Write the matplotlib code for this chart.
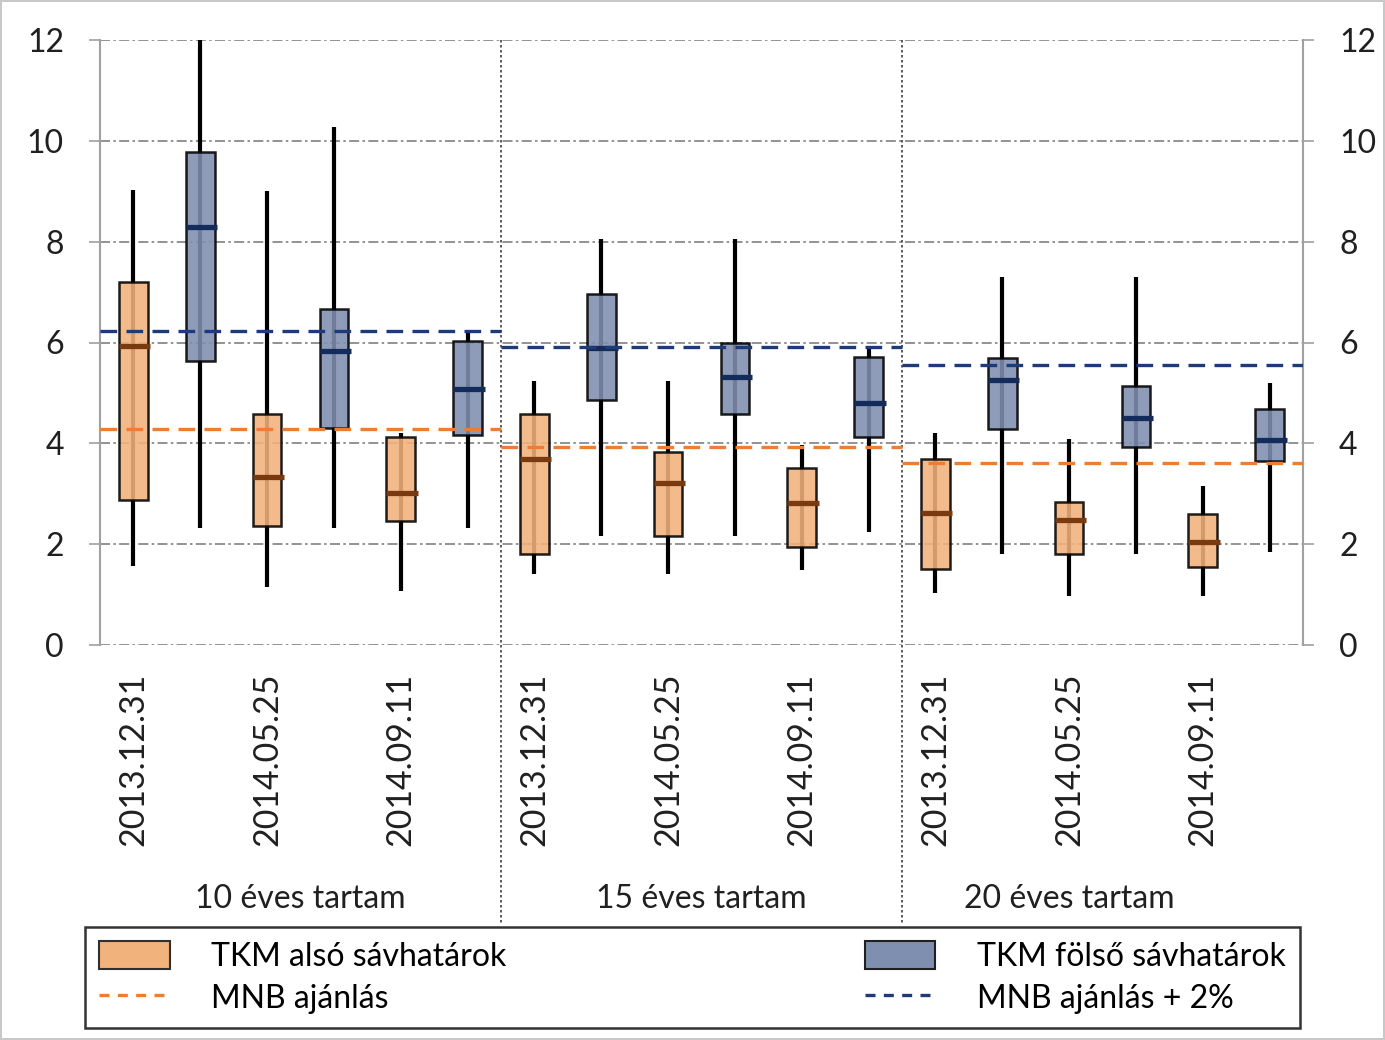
import matplotlib
matplotlib.use("Agg")
import matplotlib.pyplot as plt
import numpy as np
from matplotlib.patches import Patch
from matplotlib.lines import Line2D

plt.rcParams['font.family'] = ['Lato', 'DejaVu Sans']

groups = ["10 éves tartam", "15 éves tartam", "20 éves tartam"]
dates = ["2013.12.31", "2014.05.25", "2014.09.11"]

# TKM alsó sávhatárok (orange), per group x date
low_whislo = [[1.57, 1.15, 1.07], [1.40, 1.40, 1.48], [1.04, 0.97, 0.97]]
low_q1 = [[2.87, 2.36, 2.45], [1.80, 2.16, 1.94], [1.50, 1.81, 1.54]]
low_med = [[5.93, 3.34, 3.02], [3.68, 3.21, 2.82], [2.62, 2.47, 2.05]]
low_q3 = [[7.20, 4.59, 4.12], [4.59, 3.83, 3.51], [3.69, 2.83, 2.60]]
low_whishi = [[9.02, 9.00, 4.21], [5.23, 5.23, 3.97], [4.20, 4.09, 3.15]]

# TKM fölső sávhatárok (blue)
up_whislo = [[2.33, 2.33, 2.32], [2.16, 2.16, 2.24], [1.81, 1.81, 1.84]]
up_q1 = [[5.64, 4.31, 4.17], [4.86, 4.58, 4.13], [4.28, 3.92, 3.64]]
up_med = [[8.30, 5.83, 5.08], [5.89, 5.31, 4.80], [5.26, 4.51, 4.06]]
up_q3 = [[9.78, 6.67, 6.03], [6.96, 6.00, 5.72], [5.70, 5.14, 4.69]]
up_whishi = [[12.0, 10.27, 6.19], [8.05, 8.05, 5.92], [7.29, 7.29, 5.20]]

# MNB ajánlás and MNB ajánlás + 2% per group
mnb = [4.29, 3.92, 3.61]
mnb2 = [6.23, 5.92, 5.55]

ORANGE_FILL = "#f2b27c"
BLUE_FILL = "#7f8fb0"
ORANGE_MED = "#7a3a10"
BLUE_MED = "#142c5c"
ORANGE_LINE = "#ed7d31"
BLUE_LINE = "#1f3a78"
GRID = "#808080"
FS = 23

fig = plt.figure(figsize=(13.85, 10.4), dpi=100)
fig.patch.set_edgecolor("#c8c8c8")
fig.patch.set_linewidth(1.5)
ax = fig.add_axes([100 / 1385, 1 - 645 / 1040, 1203 / 1385, 605 / 1040])

bw = 0.43
for g in range(3):
    for d in range(3):
        xo = g * 6 + d * 2 + 0.5
        xb = xo + 1
        for x, lo, q1, med, q3, hi, fc, mc in [
            (xo, low_whislo, low_q1, low_med, low_q3, low_whishi, ORANGE_FILL, ORANGE_MED),
            (xb, up_whislo, up_q1, up_med, up_q3, up_whishi, BLUE_FILL, BLUE_MED),
        ]:
            ax.vlines(x, lo[g][d], hi[g][d], color="black", lw=3.0, zorder=3)
            ax.bar(x, q3[g][d] - q1[g][d], bottom=q1[g][d], width=bw,
                   color=fc, alpha=0.88, edgecolor="black", lw=1.8, zorder=4)
            ax.hlines(med[g][d], x - bw / 2, x + bw / 2 + 0.04, color=mc, lw=3.8, zorder=5)
    ax.hlines(mnb[g], g * 6, g * 6 + 6, color=ORANGE_LINE, lw=2.4,
              linestyles=(0, (5, 2.8)), zorder=6)
    ax.hlines(mnb2[g], g * 6, g * 6 + 6, color=BLUE_LINE, lw=2.4,
              linestyles=(0, (5, 2.8)), zorder=6)

ax.set_xlim(0, 18)
ax.set_ylim(0, 12)
ax.set_yticks(np.arange(0, 13, 2))
ax.yaxis.grid(True, color=GRID, lw=1.2, linestyle=(0, (6, 2, 1.5, 2)))
ax.set_axisbelow(True)

ax.tick_params(axis="y", which="both", left=True, right=True, labelleft=True,
               labelright=True, length=8, width=1.2, color="#a0a0a0",
               labelsize=FS, pad=18, labelcolor="#202020")

xt = [g * 6 + d * 2 + 0.5 for g in range(3) for d in range(3)]
ax.set_xticks(xt)
ax.set_xticklabels(dates * 3, rotation=90, fontsize=24.5, color="#202020")
ax.tick_params(axis="x", length=0, pad=20)

for side in ["top", "bottom"]:
    ax.spines[side].set_visible(False)
for side in ["left", "right"]:
    ax.spines[side].set_color("#a0a0a0")
    ax.spines[side].set_linewidth(1.5)

# group separators running down through the category labels
trans = ax.get_xaxis_transform()
for xs in [6, 12]:
    ax.plot([xs, xs], [1, -0.463], transform=trans, color="#404040", lw=1.2,
            linestyle=(0, (1.5, 1.5)), clip_on=False, zorder=2)

for xg, name in zip([3, 9, 14.5], groups):
    ax.text(xg, -0.42, name, transform=trans, ha="center", va="center",
            fontsize=FS, color="#202020")

handles = [
    Patch(facecolor=ORANGE_FILL, edgecolor="#303030", lw=1.5),
    Line2D([], [], color=ORANGE_LINE, lw=2.4, linestyle=(0, (3, 2.5))),
    Patch(facecolor=BLUE_FILL, edgecolor="#202020", lw=1.5),
    Line2D([], [], color=BLUE_LINE, lw=2.4, linestyle=(0, (3, 2.5))),
]
labels = ["TKM alsó sávhatárok", "MNB ajánlás", "TKM fölső sávhatárok", "MNB ajánlás + 2%"]
leg = fig.legend(handles, labels, ncol=2, mode="expand", loc="center",
                 bbox_to_anchor=(85 / 1385, 10 / 1040, 1215 / 1385, 105 / 1040),
                 borderaxespad=0, fontsize=FS, frameon=True, fancybox=False,
                 edgecolor="black", handlelength=2.2, handleheight=0.95,
                 handletextpad=1.3, labelspacing=0.35, borderpad=0.45)
leg.get_frame().set_linewidth(1.8)

fig.savefig("out.png", dpi=100)
